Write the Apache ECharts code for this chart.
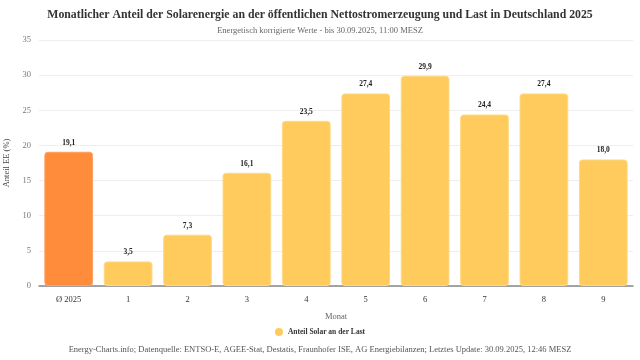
<!DOCTYPE html>
<html><head><meta charset="utf-8">
<script src="https://cdn.jsdelivr.net/npm/echarts@6/dist/echarts.min.js"></script>
<style>html,body{margin:0;padding:0;background:#fff}#c{width:640px;height:360px}</style>
</head><body><div id="c"></div>
<script>
const categories = ['Ø 2025','1','2','3','4','5','6','7','8','9'];
const values = [19.1,3.5,7.3,16.1,23.5,27.4,29.9,24.4,27.4,18.0];
const yTicks = [0,5,10,15,20,25,30,35];
const FONT = '"Liberation Serif", "DejaVu Serif", serif';
const chart = echarts.init(document.getElementById('c'));
chart.setOption({
  animation:false,
  textStyle:{fontFamily:FONT},
  title:[{text:'Monatlicher Anteil der Solarenergie an der öffentlichen Nettostromerzeugung und Last in Deutschland 2025',
    left:'center',top:4,textStyle:{fontFamily:FONT,fontSize:11.8,fontWeight:'bold',color:'#333'}},
    {text:'Energetisch korrigierte Werte - bis 30.09.2025, 11:00 MESZ',left:'center',top:21,
    textStyle:{fontFamily:FONT,fontSize:8.5,fontWeight:'normal',color:'#666'}},
    {text:'Energy-Charts.info; Datenquelle: ENTSO-E, AGEE-Stat, Destatis, Fraunhofer ISE, AG Energiebilanzen; Letztes Update: 30.09.2025, 12:46 MESZ',
    left:'center',top:340,textStyle:{fontFamily:FONT,fontSize:8.5,fontWeight:'normal',color:'#555'}}],
  legend:{top:323,left:'center',itemWidth:8,itemHeight:8,icon:'circle',
    data:[{name:'Anteil Solar an der Last',itemStyle:{color:'#FFCB5C'}}],
    textStyle:{fontFamily:FONT,fontSize:7.5,fontWeight:'bold',color:'#333'}},
  grid:{left:39,right:7,top:40,bottom:74,containLabel:false,outerBoundsMode:'none'},
  xAxis:{type:'category',data:categories,name:'Monat',nameLocation:'middle',nameGap:26,
    nameTextStyle:{fontFamily:FONT,fontSize:8.5,color:'#666'},
    axisLine:{lineStyle:{color:'#888',width:1.5}},axisTick:{show:false},
    axisLabel:{fontFamily:FONT,fontSize:8.5,color:'#333',margin:9}},
  yAxis:{type:'value',min:0,max:35,interval:5,name:'Anteil EE (%)',nameLocation:'middle',nameGap:25,
    nameTextStyle:{fontFamily:FONT,fontSize:8.5,color:'#444'},
    axisLabel:{fontFamily:FONT,fontSize:8.5,color:'#777',margin:8,formatter:v=>yTicks.includes(v)?String(v):''},
    splitLine:{lineStyle:{color:'#eee'}}},
  series:[{name:'Anteil Solar an der Last',type:'bar',barWidth:'82%',
    data:values.map((v,i)=>({value:v,itemStyle:i===0?{color:'#FF8C3A',borderColor:'#FFA060'}:{color:'#FFCB5C',borderColor:'#FFD983'}})),
    itemStyle:{borderRadius:3,borderWidth:1},
    label:{show:true,position:'top',fontFamily:FONT,fontSize:7.5,fontWeight:'bold',color:'#222',
      formatter:p=>p.value.toFixed(1).replace('.',',')}}]
});
</script></body></html>
